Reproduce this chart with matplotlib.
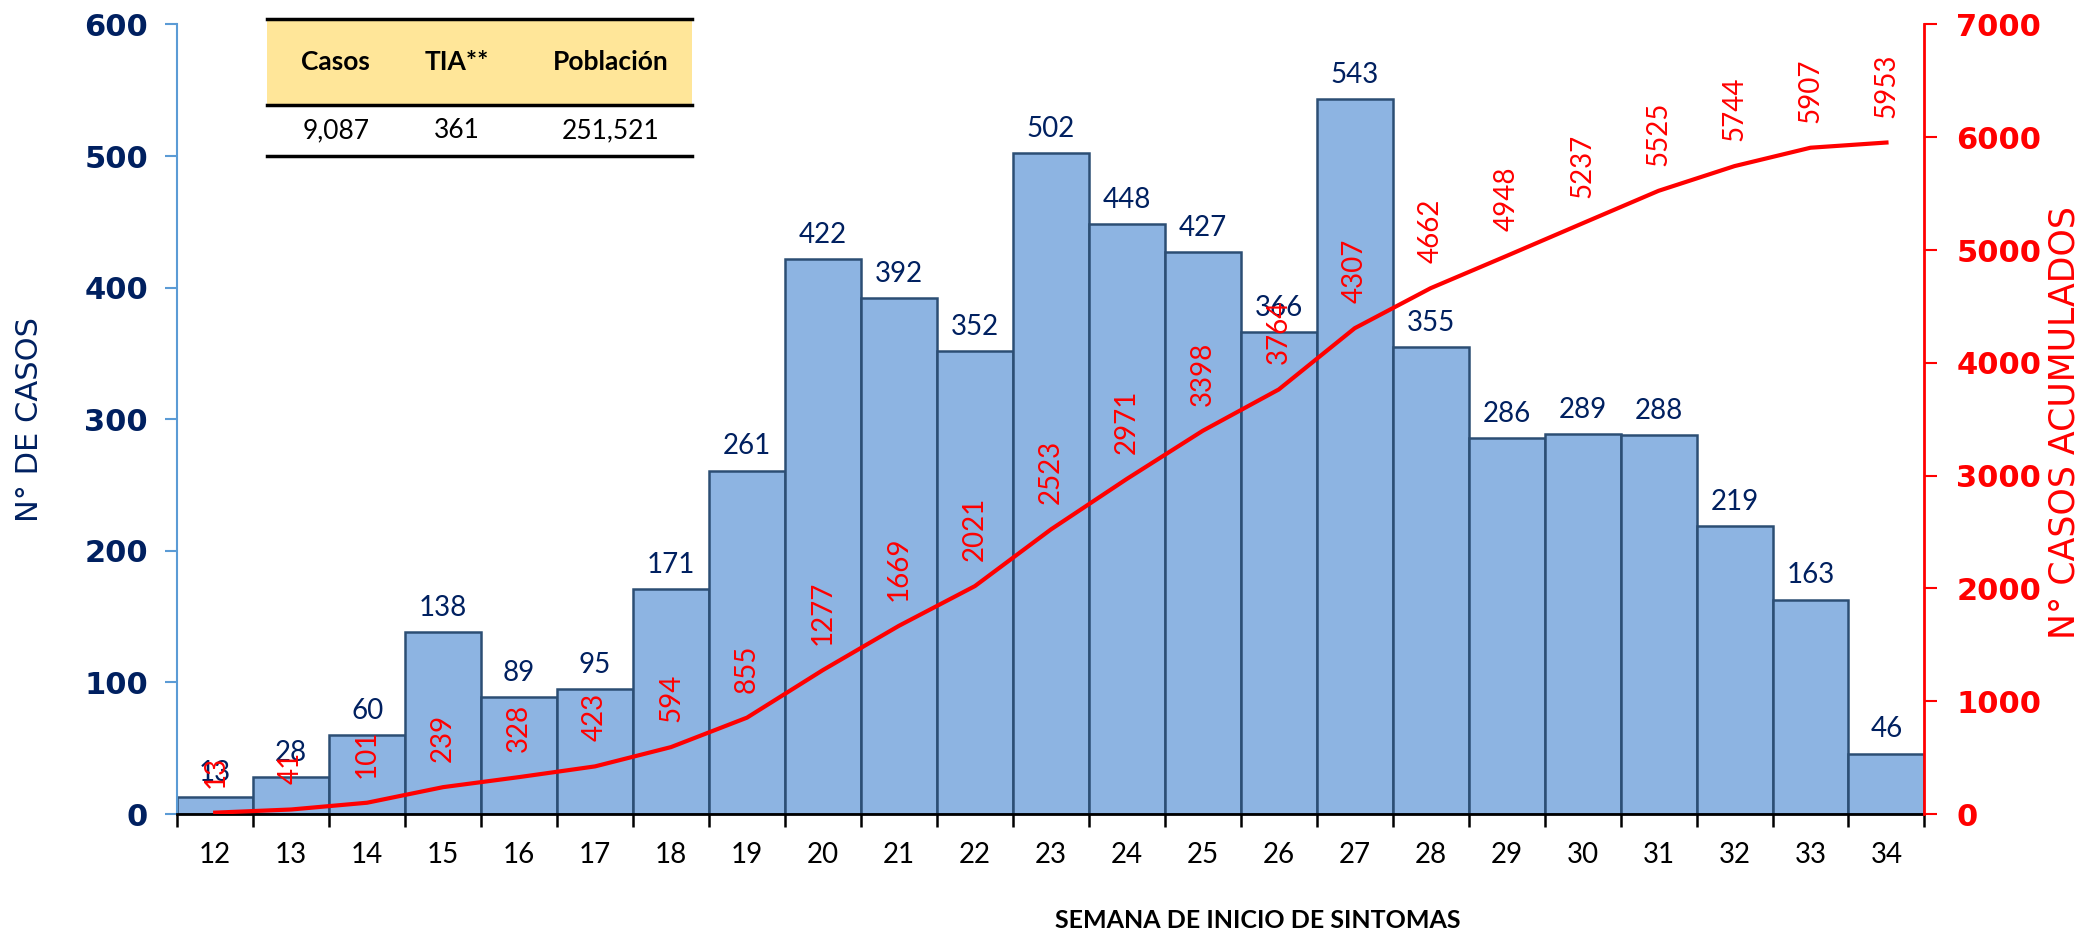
import matplotlib
matplotlib.use("Agg")
import matplotlib.pyplot as plt
from matplotlib.lines import Line2D
from matplotlib.patches import Rectangle
import numpy as np

# datos
semanas = list(range(12, 35))
casos = [13, 28, 60, 138, 89, 95, 171, 261, 422, 392, 352, 502, 448, 427,
         366, 543, 355, 286, 289, 288, 219, 163, 46]
acumulados = [13, 41, 101, 239, 328, 423, 594, 855, 1277, 1669, 2021, 2523,
              2971, 3398, 3764, 4307, 4662, 4948, 5237, 5525, 5744, 5907, 5953]
tabla_encabezado = ["Casos", "TIA**", "Población"]
tabla_valores = ["9,087", "361", "251,521"]

navy = "#002060"
azul_barra = "#8DB4E2"
borde_barra = "#2C4E74"
rojo = "#FF0000"
narrow = ["Liberation Sans Narrow", "DejaVu Sans"]

fig = plt.figure(figsize=(20.85, 9.39), dpi=100)
ax = fig.add_axes([0.085, 0.133, 0.838, 0.841])
ax2 = ax.twinx()

ax.bar(semanas, casos, width=1.0, color=azul_barra, edgecolor=borde_barra,
       linewidth=1.8, zorder=2)
for s, c in zip(semanas, casos):
    ax.annotate(str(c), (s, c), xytext=(0, 8), textcoords="offset points",
                ha="center", va="bottom", fontsize=20, color=navy,
                family="Lato", zorder=3)

ax.set_xlim(11.5, 34.5)
ax.set_ylim(0, 600)
ax.set_yticks(range(0, 601, 100))
ax.set_xticks(semanas)
ax.set_xticks(np.arange(11.5, 35, 1), minor=True)
ax.tick_params(axis="x", which="major", length=0, pad=20, labelsize=20,
               labelcolor="black")
ax.tick_params(axis="x", which="minor", length=9, width=1.8, color="black",
               direction="out")
for lab in ax.get_xticklabels():
    lab.set_family("Lato")
ax.tick_params(axis="y", length=9, width=1.5, color="#5B9BD5", pad=12,
               labelsize=22, labelcolor=navy)
for lab in ax.get_yticklabels():
    lab.set_fontweight("bold")

ax.spines["top"].set_visible(False)
ax.spines["right"].set_visible(False)
ax.spines["left"].set_color("#5B9BD5")
ax.spines["left"].set_linewidth(1.5)
ax.spines["bottom"].set_color("black")
ax.spines["bottom"].set_linewidth(2)

ax2.plot(semanas, acumulados, color=rojo, linewidth=3, zorder=4)
for s, a in zip(semanas, acumulados):
    ax2.annotate(str(a), (s, a), xytext=(0, 18), textcoords="offset points",
                 ha="center", va="bottom", rotation=90, fontsize=20,
                 color=rojo, family="Lato")
ax2.set_ylim(0, 7000)
ax2.set_yticks(range(0, 7001, 1000))
ax2.tick_params(axis="y", length=9, width=1.5, color=rojo, pad=14,
                labelsize=22, labelcolor=rojo)
for lab in ax2.get_yticklabels():
    lab.set_fontweight("bold")
for side in ["top", "left", "bottom"]:
    ax2.spines[side].set_visible(False)
ax2.spines["right"].set_color(rojo)
ax2.spines["right"].set_linewidth(2)

fig.text(0.014, 0.553, "N° DE CASOS", rotation=90, ha="center", va="center",
         fontsize=22, color=navy, family=narrow)
fig.text(0.990, 0.55, "N° CASOS ACUMULADOS", rotation=90, ha="center",
         va="center", fontsize=25, color=rojo, family=narrow)
fig.text(0.603, 0.02, "SEMANA DE INICIO DE SINTOMAS", ha="center",
         va="center", fontsize=18, fontweight="bold", family="Lato")

# tabla resumen
x0, x1 = 0.128, 0.332
y_top, y_mid, y_bot = 0.980, 0.888, 0.834
fig.patches.append(Rectangle((x0, y_mid), x1 - x0, y_top - y_mid,
                             transform=fig.transFigure, facecolor="#FFE699",
                             edgecolor="none", zorder=5))
for y in (y_top, y_mid, y_bot):
    fig.lines.append(Line2D([x0, x1], [y, y], transform=fig.transFigure,
                            color="black", linewidth=2.5, zorder=6))
col_x = [0.161, 0.219, 0.293]
for cx, h, v in zip(col_x, tabla_encabezado, tabla_valores):
    fig.text(cx, (y_top + y_mid) / 2, h, ha="center", va="center",
             fontsize=19, fontweight="bold", family="Lato", zorder=7)
    fig.text(cx, (y_mid + y_bot) / 2, v, ha="center", va="center",
             fontsize=19, family="Lato", zorder=7)

fig.savefig("out.png", dpi=100)
